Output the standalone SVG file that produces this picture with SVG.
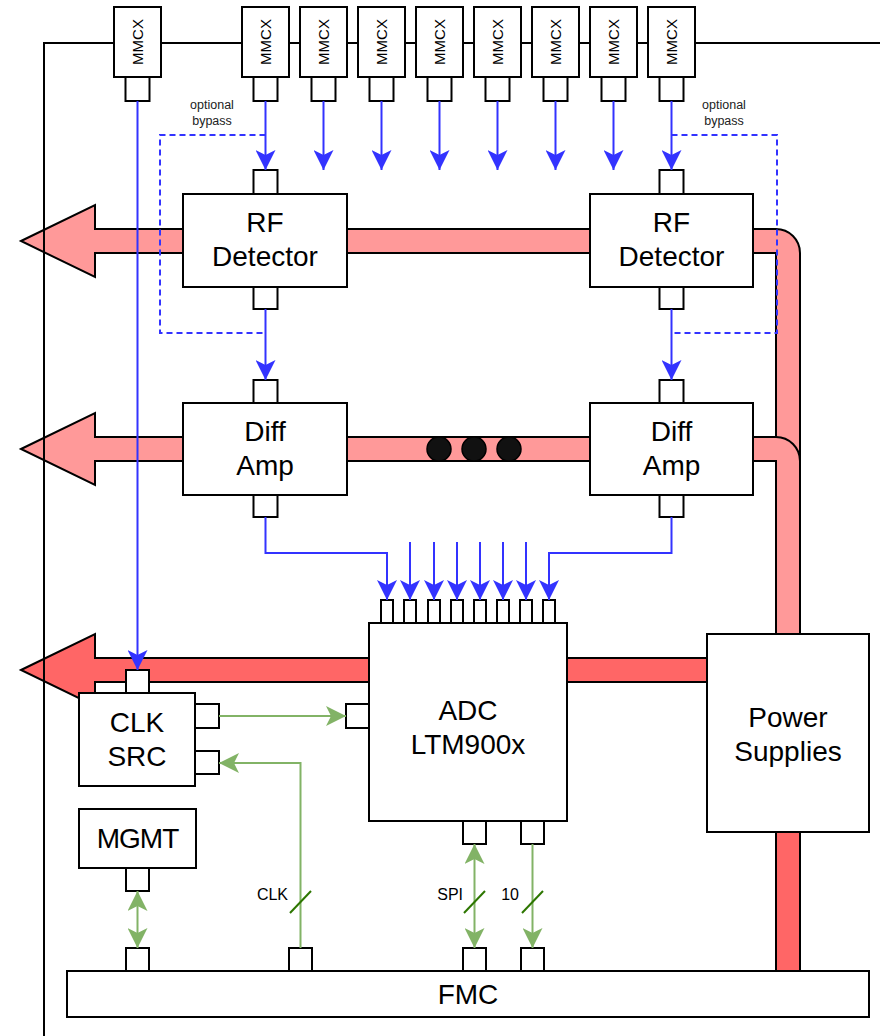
<svg xmlns="http://www.w3.org/2000/svg" width="880" height="1036" viewBox="0 0 880 1036">
<style>
.box{fill:#fff;stroke:#000;stroke-width:2}
.port{fill:#fff;stroke:#000;stroke-width:2}
.big{font-family:"Liberation Sans",Arial,sans-serif;font-size:28px;fill:#000;text-anchor:middle}
.mm{font-family:"Liberation Sans",Arial,sans-serif;font-size:15px;fill:#000;text-anchor:middle;dominant-baseline:central}
.sm{font-family:"Liberation Sans",Arial,sans-serif;font-size:12.5px;fill:#222;text-anchor:middle}
.lbl{font-family:"Liberation Sans",Arial,sans-serif;font-size:16px;fill:#000;text-anchor:end}
.pipe{stroke:#000;stroke-width:2;stroke-linejoin:miter}
.blue{fill:none;stroke:#3333FF;stroke-width:2}
.green{fill:none;stroke:#82B366;stroke-width:2}
.slash{stroke:#2D7600;stroke-width:2}
</style>
<defs>
<marker id="ab" markerUnits="userSpaceOnUse" markerWidth="20" markerHeight="20" viewBox="0 0 20 20" refX="20" refY="10" orient="auto"><path d="M0,0 L20,10 L0,20 L5,10 Z" fill="#3333FF"/></marker>
<marker id="ag" markerUnits="userSpaceOnUse" markerWidth="20" markerHeight="20" viewBox="0 0 20 20" refX="20" refY="10" orient="auto-start-reverse"><path d="M0,0 L20,10 L0,20 L5,10 Z" fill="#82B366"/></marker>
</defs>
<rect width="880" height="1036" fill="#fff"/>
<g id="pipes">
<path class="pipe" fill="#FF9999" d="M21,241 L95,205 V229 H776 A24,24 0 0 1 800,253 V634 H776 V253 H95 V277 Z"/>
<path class="pipe" fill="#FF9999" d="M21,449 L95,413 V437 H776 A24,24 0 0 1 800,461 V634 H776 V461 H95 V485 Z"/>
<path class="pipe" fill="#FF6666" d="M21,670 L95,634 V658 H707 V682 H95 V706 Z"/>
<rect class="pipe" fill="#FF6666" x="776" y="832" width="24" height="139"/>
<circle cx="439" cy="449" r="12" fill="#111" stroke="#000" stroke-width="1.5"/>
<circle cx="474" cy="449" r="12" fill="#111" stroke="#000" stroke-width="1.5"/>
<circle cx="509" cy="449" r="12" fill="#111" stroke="#000" stroke-width="1.5"/>
</g>
<path id="frame" d="M44,1036 V43 H880" fill="none" stroke="#000" stroke-width="2"/>
<g id="mmcx1"><rect class="box" x="114" y="7" width="47" height="70"/><rect class="port" x="125.5" y="77" width="24" height="24"/><text class="mm" transform="translate(137.5,42) rotate(-90)">MMCX</text></g>
<g id="mmcx2"><rect class="box" x="242" y="7" width="47" height="70"/><rect class="port" x="253.5" y="77" width="24" height="24"/><text class="mm" transform="translate(265.5,42) rotate(-90)">MMCX</text></g>
<g id="mmcx3"><rect class="box" x="300" y="7" width="47" height="70"/><rect class="port" x="311.5" y="77" width="24" height="24"/><text class="mm" transform="translate(323.5,42) rotate(-90)">MMCX</text></g>
<g id="mmcx4"><rect class="box" x="358" y="7" width="47" height="70"/><rect class="port" x="369.5" y="77" width="24" height="24"/><text class="mm" transform="translate(381.5,42) rotate(-90)">MMCX</text></g>
<g id="mmcx5"><rect class="box" x="416" y="7" width="47" height="70"/><rect class="port" x="427.5" y="77" width="24" height="24"/><text class="mm" transform="translate(439.5,42) rotate(-90)">MMCX</text></g>
<g id="mmcx6"><rect class="box" x="474" y="7" width="47" height="70"/><rect class="port" x="485.5" y="77" width="24" height="24"/><text class="mm" transform="translate(497.5,42) rotate(-90)">MMCX</text></g>
<g id="mmcx7"><rect class="box" x="532" y="7" width="47" height="70"/><rect class="port" x="543.5" y="77" width="24" height="24"/><text class="mm" transform="translate(555.5,42) rotate(-90)">MMCX</text></g>
<g id="mmcx8"><rect class="box" x="590" y="7" width="47" height="70"/><rect class="port" x="601.5" y="77" width="24" height="24"/><text class="mm" transform="translate(613.5,42) rotate(-90)">MMCX</text></g>
<g id="mmcx9"><rect class="box" x="648" y="7" width="47" height="70"/><rect class="port" x="659.5" y="77" width="24" height="24"/><text class="mm" transform="translate(671.5,42) rotate(-90)">MMCX</text></g>
<g id="rfdet1"><rect class="port" x="253.5" y="170" width="24" height="24"/><rect class="port" x="253.5" y="287" width="24" height="22"/><rect class="box" x="183" y="194" width="164" height="93"/><text class="big" x="265" y="232">RF</text><text class="big" x="265" y="266">Detector</text></g>
<g id="rfdet2"><rect class="port" x="659.5" y="170" width="24" height="24"/><rect class="port" x="659.5" y="287" width="24" height="22"/><rect class="box" x="590" y="194" width="163" height="93"/><text class="big" x="671.5" y="232">RF</text><text class="big" x="671.5" y="266">Detector</text></g>
<g id="diffamp1"><rect class="port" x="253.5" y="380" width="24" height="23"/><rect class="port" x="253.5" y="495" width="24" height="22"/><rect class="box" x="183" y="403" width="164" height="92"/><text class="big" x="265" y="441">Diff</text><text class="big" x="265" y="475">Amp</text></g>
<g id="diffamp2"><rect class="port" x="659.5" y="380" width="24" height="23"/><rect class="port" x="659.5" y="495" width="24" height="22"/><rect class="box" x="590" y="403" width="163" height="92"/><text class="big" x="671.5" y="441">Diff</text><text class="big" x="671.5" y="475">Amp</text></g>
<g id="adc">
<rect class="port" x="381" y="600" width="12" height="23"/><rect class="port" x="404" y="600" width="12" height="23"/><rect class="port" x="428" y="600" width="12" height="23"/><rect class="port" x="451" y="600" width="12" height="23"/><rect class="port" x="474" y="600" width="12" height="23"/><rect class="port" x="497" y="600" width="12" height="23"/><rect class="port" x="520" y="600" width="12" height="23"/><rect class="port" x="543" y="600" width="12" height="23"/>
<rect class="port" x="346" y="704" width="23" height="24"/>
<rect class="port" x="463" y="821" width="23" height="23"/><rect class="port" x="521" y="821" width="23" height="23"/>
<rect class="box" x="369" y="623" width="198" height="198"/>
<text class="big" x="468" y="720">ADC</text><text class="big" x="468" y="754">LTM900x</text></g>
<g id="clksrc"><rect class="port" x="126" y="670" width="23" height="23"/><rect class="port" x="195" y="704" width="24" height="24"/><rect class="port" x="195" y="751" width="24" height="23"/><rect class="box" x="79" y="693" width="116" height="93"/><text class="big" x="137" y="732">CLK</text><text class="big" x="137" y="766">SRC</text></g>
<g id="mgmt"><rect class="port" x="126" y="868" width="23" height="23"/><rect class="box" x="79" y="809" width="117" height="59"/><text class="big" x="137.5" y="848" letter-spacing="-1">MGMT</text></g>
<g id="power"><rect class="box" x="707" y="634" width="162" height="198"/><text class="big" x="788" y="727">Power</text><text class="big" x="788" y="761">Supplies</text></g>
<g id="fmc"><rect class="port" x="126" y="948" width="23" height="23"/><rect class="port" x="289" y="948" width="23" height="23"/><rect class="port" x="463" y="948" width="23" height="23"/><rect class="port" x="521" y="948" width="23" height="23"/><rect class="box" x="67" y="971" width="802" height="46"/><text class="big" x="468" y="1004">FMC</text></g>
<g id="connectors">
<path class="blue" d="M265.5,101 V170" marker-end="url(#ab)"/>
<path class="blue" d="M323.5,101 V170" marker-end="url(#ab)"/>
<path class="blue" d="M381.5,101 V170" marker-end="url(#ab)"/>
<path class="blue" d="M439.5,101 V170" marker-end="url(#ab)"/>
<path class="blue" d="M497.5,101 V170" marker-end="url(#ab)"/>
<path class="blue" d="M555.5,101 V170" marker-end="url(#ab)"/>
<path class="blue" d="M613.5,101 V170" marker-end="url(#ab)"/>
<path class="blue" d="M671.5,101 V170" marker-end="url(#ab)"/>
<path class="blue" d="M137.5,101 V670" stroke-width="1.5" marker-end="url(#ab)"/>
<path class="blue" d="M265.5,135 H160 V333 H265.5" stroke-dasharray="6 4"/>
<path class="blue" d="M671.5,135 H777 V333 H671.5" stroke-dasharray="6 4"/>
<path class="blue" d="M265.5,309 V380" marker-end="url(#ab)"/>
<path class="blue" d="M671.5,309 V380" marker-end="url(#ab)"/>
<path class="blue" d="M265.5,517 V553 H387 V600" marker-end="url(#ab)"/>
<path class="blue" d="M410,542 V600" marker-end="url(#ab)"/>
<path class="blue" d="M434,542 V600" marker-end="url(#ab)"/>
<path class="blue" d="M457,542 V600" marker-end="url(#ab)"/>
<path class="blue" d="M480,542 V600" marker-end="url(#ab)"/>
<path class="blue" d="M503,542 V600" marker-end="url(#ab)"/>
<path class="blue" d="M526,542 V600" marker-end="url(#ab)"/>
<path class="blue" d="M671.5,517 V553 H549 V600" marker-end="url(#ab)"/>
<path class="green" d="M219,716 H346" marker-end="url(#ag)"/>
<path class="green" d="M300.5,948 V763 H219" marker-end="url(#ag)"/>
<path class="green" d="M137.5,891 V948" marker-start="url(#ag)" marker-end="url(#ag)"/>
<path class="green" d="M474.5,844 V948" marker-start="url(#ag)" marker-end="url(#ag)"/>
<path class="green" d="M532.5,844 V948" marker-end="url(#ag)"/>
<line class="slash" x1="290" y1="913" x2="311" y2="891"/>
<line class="slash" x1="464" y1="913" x2="485" y2="891"/>
<line class="slash" x1="522" y1="913" x2="543" y2="891"/>
<text class="lbl" x="288" y="900">CLK</text>
<text class="lbl" x="463" y="900">SPI</text>
<text class="lbl" x="519" y="900">10</text>
<text class="sm" x="212" y="109">optional</text><text class="sm" x="212" y="125">bypass</text>
<text class="sm" x="724" y="109">optional</text><text class="sm" x="724" y="125">bypass</text>
</g>
</svg>
